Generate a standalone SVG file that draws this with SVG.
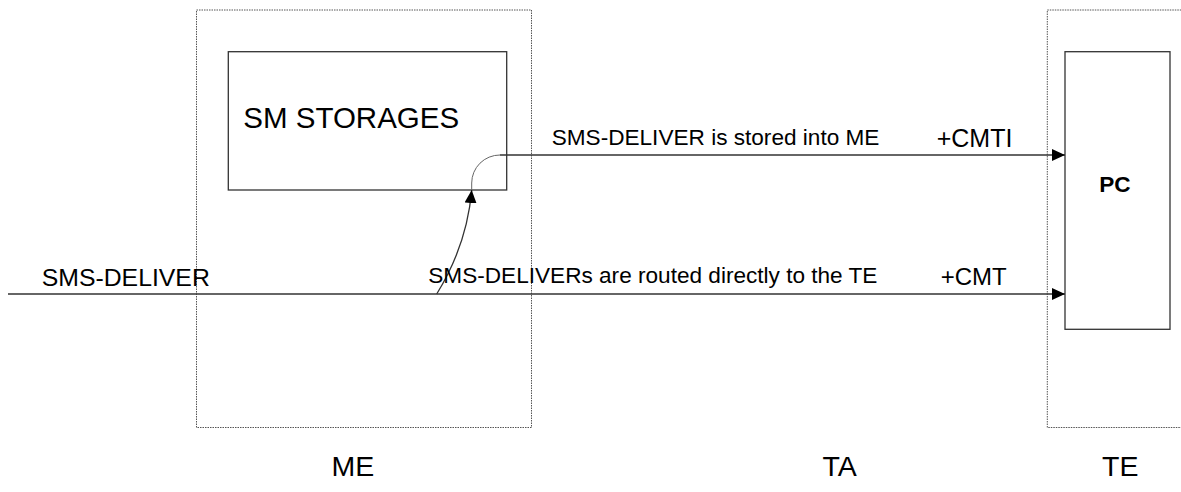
<svg xmlns="http://www.w3.org/2000/svg" width="1181" height="492" viewBox="0 0 1181 492">
<style>
.dot{fill:none;stroke:#555;stroke-width:1;stroke-dasharray:1.5,1}
.box{fill:#fff;stroke:#333;stroke-width:1.3}
.ln{fill:none;stroke:#333;stroke-width:1.3}
.arc{fill:none;stroke:#666;stroke-width:1}
text{font-family:"Liberation Sans",Arial,sans-serif;fill:#000}
.lbl{font-size:22.6px}
.big{font-size:28.5px}
</style>
<defs>
<marker id="ah" markerUnits="userSpaceOnUse" markerWidth="14" markerHeight="13" refX="13" refY="6" orient="auto">
<path d="M0,0 L13,6 L0,12 z" fill="#000"/>
</marker>
</defs>
<g id="me">
<rect class="dot" x="196.5" y="10" width="335" height="417.5"/>
<text class="big" x="331.5" y="476">ME</text>
</g>
<g id="ta">
<text class="big" x="822.5" y="476">TA</text>
</g>
<g id="te">
<rect class="dot" x="1047.3" y="10" width="140" height="417.5"/>
<text class="big" x="1102" y="476">TE</text>
</g>
<g id="sm-storages">
<rect class="box" x="228.3" y="51.7" width="278.4" height="138.3"/>
<text x="243.3" y="128.3" font-size="29.5">SM STORAGES</text>
</g>
<g id="pc">
<rect class="box" x="1065" y="51.7" width="105" height="277.6"/>
<text x="1099.3" y="191.7" font-size="22.6" font-weight="bold">PC</text>
</g>
<g id="connectors">
<path class="arc" d="M471.7,190 L471.7,183 A28.3,28 0 0 1 500,155"/>
<line class="ln" x1="500" y1="155" x2="1065" y2="155" marker-end="url(#ah)"/>
<line class="ln" x1="8" y1="294" x2="1065" y2="294" marker-end="url(#ah)"/>
<path class="ln" d="M436.7,294 Q467,245 471.7,190" marker-end="url(#ah)"/>
<text x="41.7" y="285.7" font-size="24.8">SMS-DELIVER</text>
<text class="lbl" x="551.7" y="145">SMS-DELIVER is stored into ME</text>
<text x="936.7" y="146.7" font-size="25">+CMTI</text>
<text class="lbl" x="428.3" y="283.3">SMS-DELIVERs are routed directly to the TE</text>
<text x="940.7" y="285" font-size="24">+CMT</text>
</g>
</svg>
